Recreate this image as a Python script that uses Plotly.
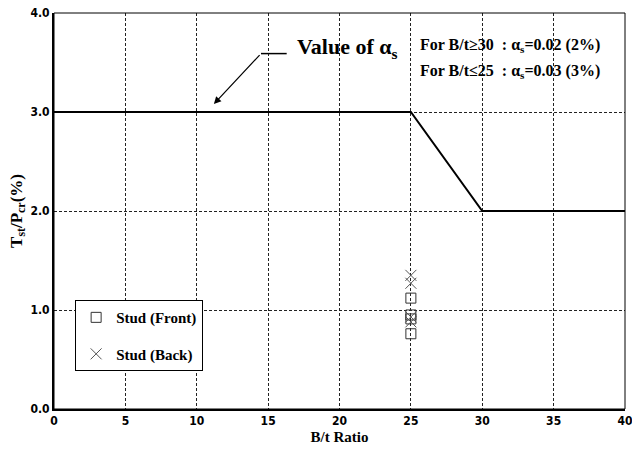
import plotly.graph_objects as go

# Design line (alpha_s in %)
line_x = [0, 25, 30, 40]
line_y = [3.0, 3.0, 2.0, 2.0]

# Test data
front_x = [25, 25, 25, 25]
front_y = [1.12, 0.95, 0.91, 0.76]
back_x = [25, 25, 25, 25]
back_y = [1.35, 1.27, 0.93, 0.88]

x_ticks = [0, 5, 10, 15, 20, 25, 30, 35, 40]
y_ticks = [0.0, 1.0, 2.0, 3.0, 4.0]

serif = "Liberation Serif, Times New Roman, serif"
tickfont = dict(family="Liberation Sans Narrow, DejaVu Sans Condensed, Arial Narrow, sans-serif",
                size=12, color="black", weight="bold")

fig = go.Figure()
fig.add_trace(go.Scatter(x=line_x, y=line_y, mode="lines",
                         line=dict(color="black", width=2), showlegend=False,
                         hoverinfo="skip"))
fig.add_trace(go.Scatter(x=front_x, y=front_y, mode="markers", name="Stud (Front)",
                         legendgroup="a",
                         marker=dict(symbol="square-open", size=10,
                                     color="#333333", line=dict(width=1))))
fig.add_trace(go.Scatter(x=back_x, y=back_y, mode="markers", name="Stud (Back)",
                         legendgroup="b",
                         marker=dict(symbol="x-thin-open", size=11,
                                     color="#555555", line=dict(width=1, color="#555555"))))

grid = dict(showgrid=True, gridcolor="#222222", gridwidth=1, griddash="3px,2px",
            zeroline=False, showline=True, linecolor="black", linewidth=2,
            ticks="", tickfont=tickfont, automargin=False, ticklabeloverflow="allow")

fig.update_xaxes(range=[0, 40], tickvals=x_ticks, ticktext=[str(v) for v in x_ticks],
                 title=dict(text="B/t Ratio", font=dict(family=serif, size=15, color="black", weight="bold"),
                            standoff=4),
                 **grid)
fig.update_yaxes(range=[0, 4], tickvals=y_ticks, ticktext=[f"{v:.1f}" for v in y_ticks],
                 title=dict(text="T<sub>st</sub>/P<sub>cr</sub>(%)",
                            font=dict(family=serif, size=17, color="black", weight="bold"),
                            standoff=4),
                 **grid)

# top/right thin frame
fig.add_shape(type="rect", xref="paper", yref="paper", x0=0, y0=0, x1=1, y1=1,
              line=dict(color="black", width=1), layer="above")

# annotation leader line
fig.add_shape(type="line", x0=14.5, y0=3.59, x1=16.3, y1=3.59,
              line=dict(color="black", width=1.5))
fig.add_annotation(x=11.2, y=3.08, ax=14.5, ay=3.59, axref="x", ayref="y",
                   xref="x", yref="y", showarrow=True, arrowhead=2, arrowsize=1.2,
                   arrowwidth=1.2, arrowcolor="black", text="")
fig.add_annotation(x=16.9, y=3.65, xref="x", yref="y", xanchor="left", yanchor="middle",
                   showarrow=False, text="Value of α<sub>s</sub>",
                   font=dict(family=serif, size=22, color="black", weight="bold"))
fig.add_annotation(x=25.5, y=3.67, xref="x", yref="y", xanchor="left", yanchor="middle",
                   showarrow=False, text="For B/t≥30&nbsp;&nbsp;: α<sub>s</sub>=0.02 (2%)",
                   font=dict(family=serif, size=16, color="black", weight="bold"))
fig.add_annotation(x=25.5, y=3.41, xref="x", yref="y", xanchor="left", yanchor="middle",
                   showarrow=False, text="For B/t≤25&nbsp;&nbsp;: α<sub>s</sub>=0.03 (3%)",
                   font=dict(family=serif, size=16, color="black", weight="bold"))

fig.update_layout(
    width=632, height=452,
    margin=dict(l=54, r=7, t=13, b=43),
    paper_bgcolor="white", plot_bgcolor="white",
    legend=dict(x=0.037, y=0.275, xanchor="left", yanchor="top",
                bordercolor="black", borderwidth=1, bgcolor="white",
                traceorder="grouped", tracegroupgap=14, itemwidth=30,
                font=dict(family=serif, size=15, color="black", weight="bold")),
)

# remove the browser's default 8px body margin so the figure fills the window
fig.write_html("out.html", config={"displayModeBar": False},
               post_script="document.body.style.margin='0px';document.body.style.overflow='hidden';")
